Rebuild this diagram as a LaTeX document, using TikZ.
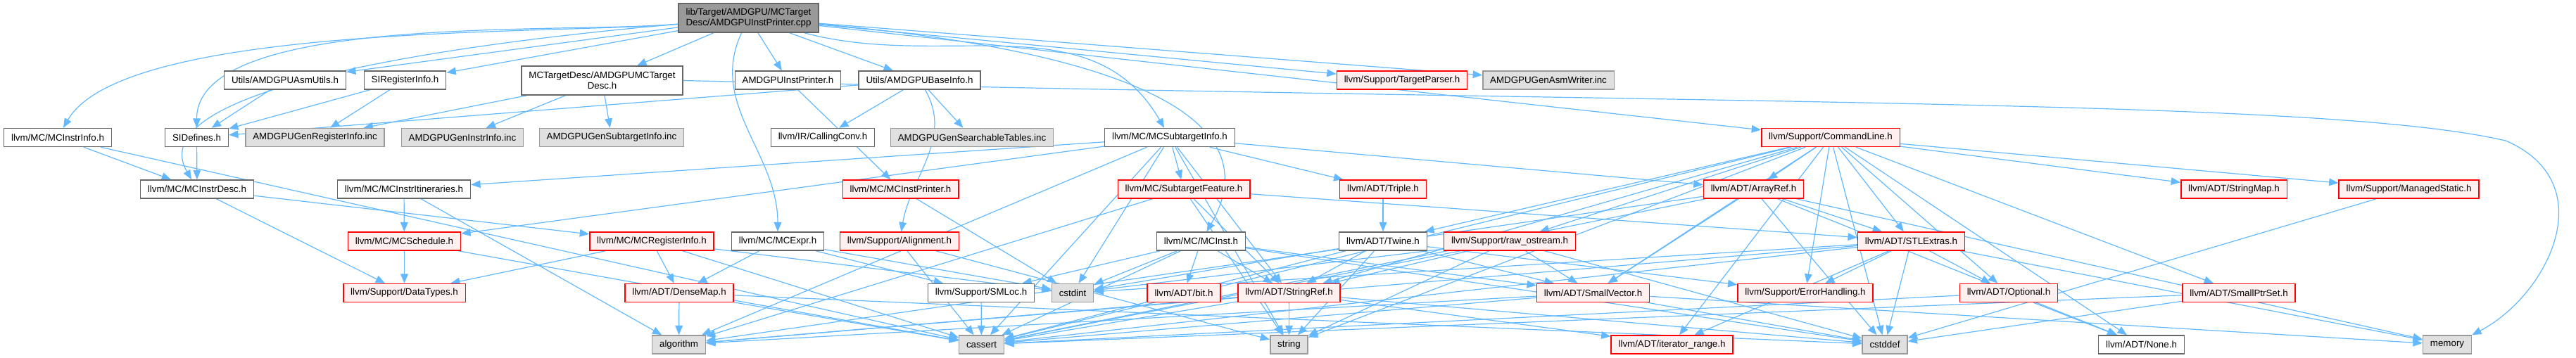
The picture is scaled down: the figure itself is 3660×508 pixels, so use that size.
\documentclass[tikz,border=0pt]{standalone}
\usepackage{fontspec}
\setmainfont{Liberation Sans}
\usetikzlibrary{arrows.meta,positioning}
\pgfdeclarelayer{bg}
\pgfsetlayers{bg,main}
\definecolor{edgeblue}{HTML}{63B8FF}
\definecolor{boxgrey}{HTML}{666666}
\definecolor{extgrey}{HTML}{999999}
\definecolor{extfill}{HTML}{E0E0E0}
\definecolor{truncfill}{HTML}{FFF0F0}
\tikzset{
  file/.style={rectangle,draw=boxgrey,fill=white,line width=1.1pt,minimum height=19.5pt,
    inner xsep=7.8pt,inner ysep=1pt,font=\fontsize{10}{11.3}\selectfont,align=center},
  trunc/.style={file,draw=red,fill=truncfill},
  ext/.style={file,draw=extgrey,fill=extfill},
  rootfile/.style={file,fill=extgrey,minimum height=30.75pt},
  dep/.style={draw=edgeblue,line width=0.9pt,-{Triangle[length=10pt,width=8pt]}}
}

\begin{document}
\begin{tikzpicture}[x=0.75pt,y=-0.75pt]
\useasboundingbox (0,0) rectangle (3660,508);

% =========================================================
% Files, row by row
% =========================================================

\node[rootfile] (root) at (1063.5,25.5) {lib/Target/AMDGPU/MCTarget\\Desc/AMDGPUInstPrinter.cpp};

\node[file] (asmutils) at (405,114) {Utils/AMDGPUAsmUtils.h};
\node[file] (sireg) at (575.5,114) {SIRegisterInfo.h};
\node[file,minimum height=30.75pt] (tdesc) at (855.5,114.5) {MCTargetDesc/AMDGPUMCTarget\\Desc.h};
\node[file] (printh) at (1119.5,114) {AMDGPUInstPrinter.h};
\node[file] (baseinfo) at (1306.5,114) {Utils/AMDGPUBaseInfo.h};
\node[trunc] (tparser) at (1992,114) {llvm/Support/TargetParser.h};
\node[ext] (asmwriter) at (2200,114) {AMDGPUGenAsmWriter.inc};

\node[file] (instrinfo) at (82,195.5) {llvm/MC/MCInstrInfo.h};
\node[file] (sidef) at (279.5,195.5) {SIDefines.h};
\node[ext] (gregs) at (447.5,195.5) {AMDGPUGenRegisterInfo.inc};
\node[ext] (ginstr) at (657,195.5) {AMDGPUGenInstrInfo.inc};
\node[ext] (gsub) at (869,195.5) {AMDGPUGenSubtargetInfo.inc};
\node[file] (callconv) at (1169,195.5) {llvm/IR/CallingConv.h};
\node[ext] (gsearch) at (1381,195.5) {AMDGPUGenSearchableTables.inc};
\node[file] (subinfo) at (1662,195.5) {llvm/MC/MCSubtargetInfo.h};
\node[trunc] (cmdline) at (2601,195.5) {llvm/Support/CommandLine.h};

\node[file] (instrdesc) at (280,269) {llvm/MC/MCInstrDesc.h};
\node[file] (itin) at (574,269) {llvm/MC/MCInstrItineraries.h};
\node[trunc] (instprinter) at (1279.5,269) {llvm/MC/MCInstPrinter.h};
\node[trunc] (subfeat) at (1682,269) {llvm/MC/SubtargetFeature.h};
\node[trunc] (triple) at (1965,269) {llvm/ADT/Triple.h};
\node[trunc] (arrayref) at (2491.5,269) {llvm/ADT/ArrayRef.h};
\node[trunc] (strmap) at (3174,269) {llvm/ADT/StringMap.h};
\node[trunc] (mstatic) at (3422.5,269) {llvm/Support/ManagedStatic.h};

\node[trunc] (sched) at (574.5,343) {llvm/MC/MCSchedule.h};
\node[trunc] (reginfo) at (926,343) {llvm/MC/MCRegisterInfo.h};
\node[file] (mcexpr) at (1105,343) {llvm/MC/MCExpr.h};
\node[trunc] (align) at (1278,343) {llvm/Support/Alignment.h};
\node[file] (mcinst) at (1706.5,343) {llvm/MC/MCInst.h};
\node[file] (twine) at (1965,343) {llvm/ADT/Twine.h};
\node[trunc] (rawos) at (2145,343) {llvm/Support/raw\_ostream.h};
\node[trunc] (stlx) at (2715.5,343) {llvm/ADT/STLExtras.h};

\node[trunc] (dtypes) at (574.5,416.5) {llvm/Support/DataTypes.h};
\node[trunc] (densemap) at (965,416.5) {llvm/ADT/DenseMap.h};
\node[file] (smloc) at (1394,416.5) {llvm/Support/SMLoc.h};
\node[ext] (cstdint) at (1524,416.5) {cstdint};
\node[trunc] (bit) at (1682,416.5) {llvm/ADT/bit.h};
\node[trunc] (strref) at (1831.5,416.5) {llvm/ADT/StringRef.h};
\node[trunc] (smallvec) at (2263.5,416.5) {llvm/ADT/SmallVector.h};
\node[trunc] (errh) at (2565,416.5) {llvm/Support/ErrorHandling.h};
\node[trunc] (optional) at (2854,416.5) {llvm/ADT/Optional.h};
\node[trunc] (smallptr) at (3181,416.5) {llvm/ADT/SmallPtrSet.h};

\node[ext] (algo) at (964.5,490) {algorithm};
\node[ext] (cassert) at (1394.5,490) {cassert};
\node[ext] (str) at (1831.5,490) {string};
\node[trunc] (iterrange) at (2375.5,490) {llvm/ADT/iterator\_range.h};
\node[ext] (cstddef) at (2678,490) {cstddef};
\node[file] (noneh) at (3042.5,490) {llvm/ADT/None.h};
\node[ext] (mem) at (3477,490) {memory};

% =========================================================
% Includes
% =========================================================

\begin{pgfonlayer}{bg}
\draw[dep] (root) to[out=185,in=60,looseness=0.5] (instrinfo);
\draw[dep] (root) to[out=185,in=120,looseness=0.6] (instrdesc);
\draw[dep] (root) to[out=185,in=90,looseness=0.6] (sidef);
\draw[dep] (root) -- (asmutils);
\draw[dep] (root) -- (sireg);
\draw[dep] (root) -- (tdesc);
\draw[dep] (root) to[out=-115,in=90] (mcexpr);
\draw[dep] (root) -- (printh);
\draw[dep] (root) -- (baseinfo);
\draw[dep] (root) to[out=-15,in=120] (subinfo);
\draw[dep] (root) to[out=-5,in=60] (mcinst);
\draw[dep] (root) -- (tparser);
\draw[dep] (root) -- (asmwriter);
\draw[dep] (root) -- (cmdline);

\draw[dep] (instrinfo) -- (instrdesc);
\draw[dep] (instrinfo) -- (cassert);
\draw[dep] (sidef) -- (instrdesc);
\draw[dep] (asmutils) -- (sidef);
\draw[dep] (sireg) -- (sidef);
\draw[dep] (sireg) -- (gregs);
\draw[dep] (tdesc) -- (gregs);
\draw[dep] (tdesc) -- (ginstr);
\draw[dep] (tdesc) -- (gsub);
\draw[dep] (tdesc.east) .. controls (2500,150) and (3300,140) .. (3560,200)
  .. controls (3700,260) and (3620,420) .. (mem.north east);
\draw[dep] (printh) -- (instprinter);
\draw[dep] (baseinfo) -- (sidef);
\draw[dep] (baseinfo) -- (callconv);
\draw[dep] (baseinfo) -- (gsearch);
\draw[dep] (baseinfo) to[out=-60,in=80] (align);

\draw[dep] (instrdesc) -- (reginfo);
\draw[dep] (instrdesc) -- (dtypes);
\draw[dep] (itin) -- (sched);
\draw[dep] (itin) -- (algo);
\draw[dep] (sched) -- (dtypes);
\draw[dep] (sched) -- (cassert);
\draw[dep] (reginfo) -- (dtypes);
\draw[dep] (reginfo) -- (densemap);
\draw[dep] (reginfo) -- (cassert);
\draw[dep] (reginfo) -- (cstdint);
\draw[dep] (mcexpr) -- (densemap);
\draw[dep] (mcexpr) -- (smloc);
\draw[dep] (mcexpr) -- (cstdint);
\draw[dep] (instprinter) -- (cstdint);
\draw[dep] (align) -- (cassert);
\draw[dep] (align) -- (str);

\draw[dep] (subinfo) -- (itin);
\draw[dep] (subinfo) -- (sched);
\draw[dep] (subinfo) -- (subfeat);
\draw[dep] (subinfo) -- (triple);
\draw[dep] (subinfo) -- (arrayref);
\draw[dep] (subinfo) -- (strref);
\draw[dep] (subinfo) -- (cassert);
\draw[dep] (subinfo) -- (cstdint);
\draw[dep] (subinfo) -- (str);
\draw[dep] (subinfo) -- (algo);
\draw[dep] (subfeat) -- (strref);
\draw[dep] (subfeat) -- (stlx);
\draw[dep] (subfeat) -- (algo);
\draw[dep] (subfeat) -- (str);

\draw[dep] (mcinst) -- (smallvec);
\draw[dep] (mcinst) -- (strref);
\draw[dep] (mcinst) -- (smloc);
\draw[dep] (mcinst) -- (bit);
\draw[dep] (mcinst) -- (cassert);
\draw[dep] (mcinst) -- (cstddef);
\draw[dep] (mcinst) -- (cstdint);
\draw[dep] (smloc) -- (cassert);
\draw[dep] (densemap) -- (algo);
\draw[dep] (densemap) -- (cassert);
\draw[dep] (densemap) -- (cstddef);

\draw[dep] (triple) -- (twine);
\draw[dep] (twine) -- (smallvec);
\draw[dep] (twine) -- (strref);
\draw[dep] (twine) -- (errh);
\draw[dep] (twine) -- (cassert);
\draw[dep] (twine) -- (cstdint);
\draw[dep] (twine) -- (str);
\draw[dep] (rawos) -- (strref);
\draw[dep] (rawos) -- (smallvec);
\draw[dep] (rawos) -- (cassert);
\draw[dep] (rawos) -- (cstddef);
\draw[dep] (rawos) -- (cstdint);
\draw[dep] (rawos) -- (str);
\draw[dep] (strref) -- (str);
\draw[dep] (strref) -- (algo);
\draw[dep] (strref) -- (cassert);
\draw[dep] (strref) -- (cstddef);
\draw[dep] (strref) -- (iterrange);
\draw[dep] (smallvec) -- (algo);
\draw[dep] (smallvec) -- (cassert);
\draw[dep] (smallvec) -- (cstddef);
\draw[dep] (smallvec) -- (mem);

\draw[dep] (cmdline) -- (arrayref);
\draw[dep] (cmdline) -- (noneh);
\draw[dep] (cmdline) -- (optional);
\draw[dep] (cmdline) -- (stlx);
\draw[dep] (cmdline) -- (smallptr);
\draw[dep] (cmdline) -- (smallvec);
\draw[dep] (cmdline) -- (strmap);
\draw[dep] (cmdline) -- (strref);
\draw[dep] (cmdline) -- (twine);
\draw[dep] (cmdline) -- (iterrange);
\draw[dep] (cmdline) -- (errh);
\draw[dep] (cmdline) -- (mstatic);
\draw[dep] (cmdline) -- (rawos);
\draw[dep] (cmdline) -- (cassert);
\draw[dep] (cmdline) -- (cstddef);
\draw[dep] (cmdline) -- (str);

\draw[dep] (arrayref) -- (stlx);
\draw[dep] (arrayref) -- (smallvec);
\draw[dep] (arrayref) -- (noneh);
\draw[dep] (arrayref) -- (algo);
\draw[dep] (arrayref) -- (cassert);
\draw[dep] (arrayref) -- (cstddef);
\draw[dep] (arrayref) -- (mem);
\draw[dep] (stlx) -- (optional);
\draw[dep] (stlx) -- (iterrange);
\draw[dep] (stlx) -- (errh);
\draw[dep] (stlx) -- (algo);
\draw[dep] (stlx) -- (cassert);
\draw[dep] (stlx) -- (cstddef);
\draw[dep] (stlx) -- (cstdint);
\draw[dep] (stlx) -- (mem);
\draw[dep] (optional) -- (noneh);
\draw[dep] (optional) -- (cassert);
\draw[dep] (smallptr) -- (cassert);
\draw[dep] (smallptr) -- (cstddef);
\draw[dep] (mstatic) -- (cstddef);
\end{pgfonlayer}

\end{tikzpicture}
\end{document}
